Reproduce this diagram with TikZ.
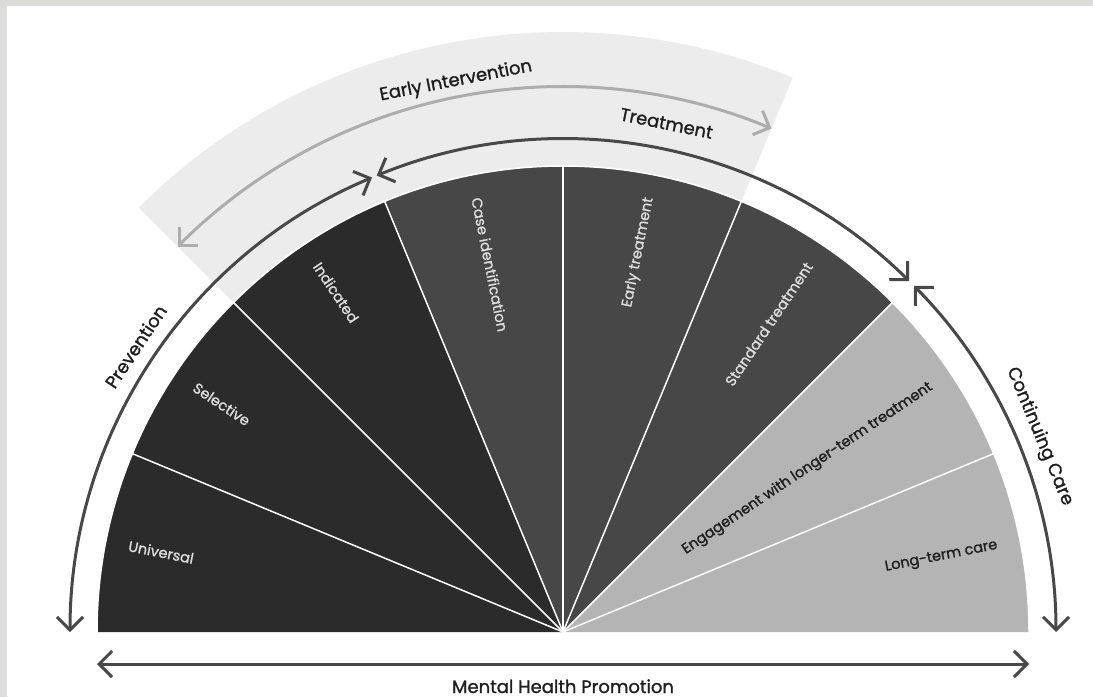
\documentclass[tikz,border=0pt]{standalone}
\usepackage{fontspec}
\setmainfont{Poppins}[RawFeature={embolden=1.2}]
\usetikzlibrary{arrows.meta}

\definecolor{frame}{HTML}{DCDCD8}
\definecolor{band}{HTML}{ECECEC}
\definecolor{darkseg}{HTML}{2B2B2B}
\definecolor{midseg}{HTML}{474747}
\definecolor{lightseg}{HTML}{B4B4B4}
\definecolor{arrowdark}{HTML}{484848}
\definecolor{arrowlight}{HTML}{ADADAD}
\definecolor{darktext}{HTML}{1E1E1E}
\definecolor{lighttext}{HTML}{DDDDDD}

\tikzstyle{span arrow} = [draw=arrowdark,line width=3pt,{Straight Barb[length=13pt,width=26pt]}-{Straight Barb[length=13pt,width=26pt]}]
\tikzstyle{span light} = [span arrow,draw=arrowlight]
\tikzstyle{divider} = [draw=white,line width=1.5pt]
\tikzstyle{span label} = [font=\fontsize{18}{20}\selectfont,text=darktext]
\tikzstyle{segment label} = [font=\fontsize{14.5}{16}\selectfont,inner sep=0pt]

\begin{document}
\begin{tikzpicture}[x=1pt,y=1pt]
\fill[frame] (0,0) rectangle (1093,697);
\fill[white] (7,0) rectangle (1093,691);
\useasboundingbox (0,0) rectangle (1093,697);
\coordinate (O) at (563,65);

% early intervention band
\fill[band] ([shift={(135:466)}]O) -- ([shift={(135:600)}]O)
  arc[start angle=135,end angle=67.5,radius=600]
  -- ([shift={(67.5:466)}]O) arc[start angle=67.5,end angle=135,radius=466] -- cycle;

% segments
\foreach \i/\col in {0/darkseg,1/darkseg,2/darkseg,3/midseg,
                     4/midseg,5/midseg,6/lightseg,7/lightseg}{
  \pgfmathsetmacro\sa{180-22.5*\i}
  \pgfmathsetmacro\ea{\sa-22.5}
  \fill[\col] (O) -- ([shift={(\sa:466)}]O) arc[start angle=\sa,end angle=\ea,radius=466] -- cycle;
}
\draw[divider] ([shift={(180:466)}]O) arc[start angle=180,end angle=0,radius=466];
\foreach \a in {22.5,45,...,157.5}
  \draw[divider] (O) -- ([shift={(\a:466)}]O);

\foreach \mid/\side/\col/\txt [count=\n] in {168.75/0/lighttext/Universal,
    146.25/0/lighttext/Selective, 123.75/0/lighttext/Indicated,
    101.25/0/lighttext/Case identification, 78.75/1/lighttext/Early treatment,
    56.25/1/lighttext/Standard treatment,
    33.75/1/darktext/Engagement with longer-term treatment,
    11.25/1/darktext/Long-term care}{
  \ifnum\side=0
  \node[segment label,text=\col,anchor=west,rotate=\mid-180] (seg\n) at ([shift={(\mid:443)}]O) {\txt};
  \else
  \node[segment label,text=\col,anchor=east,rotate=\mid] (seg\n) at ([shift={(\mid:443)}]O) {\txt};
  \fi
}

% spans round the arc
\coordinate (prev end) at ([shift={(180:493)}]O);
\coordinate (treat end) at ([shift={(112.2:493)}]O);
\coordinate (care end) at ([shift={(44.6:493)}]O);
\coordinate (early end) at ([shift={(135:545)}]O);
\draw[span arrow] (prev end) arc[start angle=180,end angle=112.8,radius=493];
\draw[span arrow] (treat end) arc[start angle=112.2,end angle=45.4,radius=493];
\draw[span arrow] (care end) arc[start angle=44.6,end angle=0,radius=493];
\draw[span light] (early end) arc[start angle=135,end angle=67.5,radius=545];

\node[span label,rotate=56.25] (prevention) at ([shift={(146.25:514)}]O) {Prevention};
\node[span label,rotate=-11.5] (treatment) at ([shift={(78.5:519)}]O) {Treatment};
\node[span label,rotate=-67.5] (care) at ([shift={(22.3:515)}]O) {Continuing Care};
\node[span label,rotate=11] (early) at ([shift={(101:561)}]O) {Early Intervention};

% promotion
\coordinate (promo west) at (97,33);
\coordinate (promo east) at (1029,33);
\draw[span arrow] (promo west) -- (promo east);
\node[span label,anchor=base] (promo) at (563,4) {Mental Health Promotion};
\end{tikzpicture}
\end{document}
